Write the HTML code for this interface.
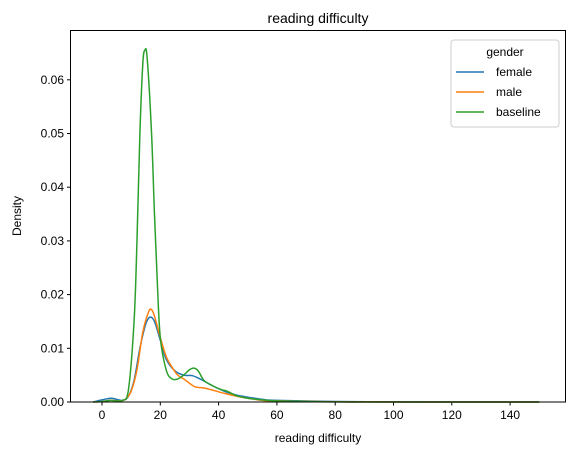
<!DOCTYPE html>
<html><head><meta charset="utf-8"><style>
body{margin:0;background:#fff;}
svg{display:block;font-family:"Liberation Sans","DejaVu Sans",sans-serif;}
</style></head><body>
<svg id="chart" width="576" height="455">
<rect width="576" height="455" fill="#fff"/>
<text x="318" y="23" font-size="14" text-anchor="middle">reading difficulty</text>
<g id="plot"></g>
<rect x="70.5" y="30.5" width="495" height="371.5" fill="none" stroke="#000" stroke-width="1"/>
<text x="318" y="442" font-size="12" text-anchor="middle">reading difficulty</text>
<text x="21" y="216" font-size="12" text-anchor="middle" transform="rotate(-90 21 216)">Density</text>
<g>
<rect x="451" y="40" width="108" height="87" rx="3" fill="#fff" fill-opacity="0.8" stroke="#ccc"/>
<text x="505" y="56" font-size="12" text-anchor="middle">gender</text>
<line x1="456" y1="72" x2="484" y2="72" stroke="#1f77b4" stroke-width="1.5"/>
<text x="496" y="76" font-size="12">female</text>
<line x1="456" y1="92" x2="484" y2="92" stroke="#ff7f0e" stroke-width="1.5"/>
<text x="496" y="96" font-size="12">male</text>
<line x1="456" y1="112" x2="484" y2="112" stroke="#2ca02c" stroke-width="1.5"/>
<text x="496" y="116" font-size="12">baseline</text>
</g>
</svg>
<script>
const xTicks = [0,20,40,60,80,100,120,140];
const yTicks = [0,0.01,0.02,0.03,0.04,0.05,0.06];
const yTickLabels = ["0.00","0.01","0.02","0.03","0.04","0.05","0.06"];
const femaleX = [-3,0,3,5,7,9,11,13,15,16.5,18,20,22,25,28,31,34,38,42,46,50,55,60,80,100,150];
const femaleY = [0,0.0004,0.0007,0.0005,0.0003,0.001,0.004,0.01,0.0145,0.0158,0.015,0.0115,0.008,0.0058,0.005,0.0049,0.0042,0.003,0.002,0.0013,0.0009,0.0005,0.0003,0.0001,0.00002,0];
const maleX = [-3,0,3,6,8,10,12,14,16,17,18,20,22,24,26,28,30,32,35,38,42,46,50,55,60,80,100,150];
const maleY = [0,0.0001,0.0003,0.0002,0.0005,0.002,0.006,0.013,0.0168,0.0172,0.016,0.012,0.0085,0.0065,0.005,0.0043,0.0035,0.0028,0.0026,0.0022,0.0016,0.0011,0.0007,0.0003,0.0002,0.00005,0.00001,0];
const baseX = [-3,0,3,7,9,11,12,13,14,14.7,15.5,17,18,19,20,22,24,26,28,30,31.5,33,35,38,41,43,46,50,55,60,70,90,150];
const baseY = [0,0.0001,0.0003,0.0003,0.002,0.015,0.03,0.05,0.063,0.0655,0.064,0.05,0.035,0.022,0.012,0.006,0.0043,0.0043,0.005,0.006,0.0063,0.0058,0.004,0.003,0.0023,0.002,0.0012,0.0007,0.0004,0.0002,0.0001,0,0];
const NS="http://www.w3.org/2000/svg";
function sx(v){return 102+v*(58.3/20);}
function sy(v){return 402-v*5370;}
const plot=document.getElementById('plot');
xTicks.forEach(t=>{
  const l=document.createElementNS(NS,'line');
  l.setAttribute('x1',sx(t));l.setAttribute('x2',sx(t));l.setAttribute('y1',402);l.setAttribute('y2',405.5);l.setAttribute('stroke','#000');
  
  
  plot.appendChild(l);
  const tx=document.createElementNS(NS,'text');
  tx.setAttribute('x',sx(t));tx.setAttribute('y',419);tx.setAttribute('font-size','12');tx.setAttribute('text-anchor','middle');tx.textContent=t;
  
  
  plot.appendChild(tx);
});
yTicks.forEach((t,i)=>{
  const l=document.createElementNS(NS,'line');
  l.setAttribute('x1',67);l.setAttribute('x2',70.5);l.setAttribute('y1',sy(t));l.setAttribute('y2',sy(t));l.setAttribute('stroke','#000');
  
  
  plot.appendChild(l);
  const tx=document.createElementNS(NS,'text');
  tx.setAttribute('x',64);tx.setAttribute('y',sy(t)+4);tx.setAttribute('font-size','12');tx.setAttribute('text-anchor','end');tx.textContent=yTickLabels[i];
  
  
  plot.appendChild(tx);
});
function curve(xs,ys){
  const p=xs.map((x,i)=>[sx(x),sy(ys[i])]);
  let d='M'+p[0][0]+','+p[0][1];
  for(let i=0;i<p.length-1;i++){
    const p0=p[Math.max(0,i-1)],p1=p[i],p2=p[i+1],p3=p[Math.min(p.length-1,i+2)];
    let c1y=p1[1]+(p2[1]-p0[1])/6, c2y=p2[1]-(p3[1]-p1[1])/6;
    c1y=Math.min(c1y,402);c2y=Math.min(c2y,402);
    d+=' C'+(p1[0]+(p2[0]-p0[0])/6)+','+c1y+' '+(p2[0]-(p3[0]-p1[0])/6)+','+c2y+' '+p2[0]+','+p2[1];
  }
  return d;
}
[[femaleX,femaleY,'#1f77b4','female'],[maleX,maleY,'#ff7f0e','male'],[baseX,baseY,'#2ca02c','baseline']].forEach(s=>{
  const path=document.createElementNS(NS,'path');
  path.setAttribute('d',curve(s[0],s[1]));path.setAttribute('fill','none');path.setAttribute('stroke',s[2]);path.setAttribute('stroke-width','1.5');
  
  
  plot.appendChild(path);
});
</script>
</body></html>
